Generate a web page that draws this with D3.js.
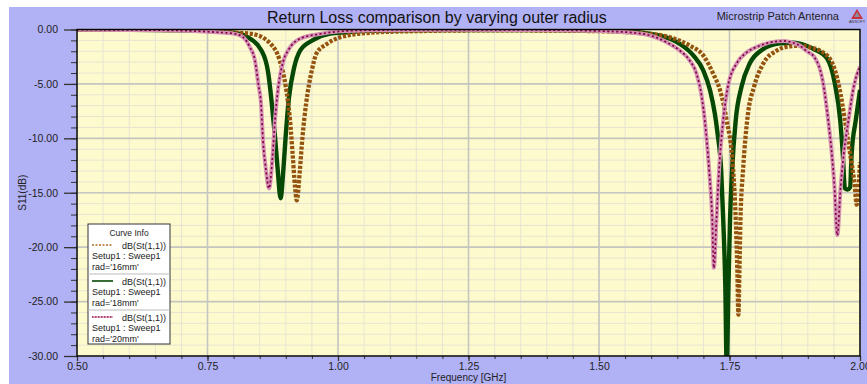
<!DOCTYPE html>
<html>
<head>
<meta charset="utf-8">
<script src="https://cdn.jsdelivr.net/npm/d3@7"></script>
<style>
  body { margin: 0; background: #ffffff; }
  svg { display: block; font-family: "Liberation Sans", Arial, sans-serif; }
</style>
</head>
<body>
<svg id="chart" width="867" height="384"></svg>
<script>
// values (GHz, dB)
var freq16 = [0.50, 0.60, 0.70, 0.76, 0.80, 0.835, 0.87, 0.888, 0.900, 0.908, 0.913, 0.9176, 0.921, 0.927, 0.932, 0.939, 0.950, 0.959, 0.978, 1.002, 1.061, 1.15, 1.30, 1.45, 1.53, 1.585, 1.636, 1.674, 1.700, 1.719, 1.732, 1.744, 1.757, 1.762, 1.765, 1.767, 1.769, 1.771, 1.776, 1.785, 1.797, 1.815, 1.840, 1.866, 1.885, 1.905, 1.923, 1.945, 1.960, 1.971, 1.981, 1.990, 1.9936, 2.00];
var s16 = [-0.02, -0.03, -0.06, -0.15, -0.28, -0.40, -1.27, -2.8, -5.26, -8.3, -11.4, -14.4, -15.7, -12.9, -9.85, -6.78, -3.72, -2.19, -1.35, -0.75, -0.30, -0.15, -0.08, -0.12, -0.20, -0.35, -0.72, -1.49, -2.4, -4.09, -5.6, -8.2, -12.9, -17.5, -22.1, -26.2, -22.1, -17.5, -12.9, -7.9, -5.26, -3.1, -1.95, -1.55, -1.49, -1.65, -1.94, -2.9, -5.26, -8.3, -11.4, -14.4, -16.1, -12.2];

var freq18 = [0.50, 0.60, 0.70, 0.76, 0.80, 0.825, 0.853, 0.866, 0.873, 0.8793, 0.8845, 0.890, 0.8953, 0.8997, 0.906, 0.916, 0.928, 0.9527, 0.985, 1.017, 1.061, 1.20, 1.40, 1.553, 1.617, 1.655, 1.681, 1.700, 1.713, 1.722, 1.727, 1.734, 1.738, 1.742, 1.7446, 1.748, 1.751, 1.755, 1.762, 1.773, 1.789, 1.812, 1.847, 1.872, 1.895, 1.911, 1.936, 1.952, 1.962, 1.967, 1.971, 1.976, 1.981, 1.984, 1.992, 2.00];
var s18 = [-0.02, -0.03, -0.07, -0.15, -0.30, -0.66, -1.9, -3.9, -6.7, -9.85, -12.9, -15.5, -12.9, -9.85, -6.3, -3.5, -1.9, -0.96, -0.38, -0.26, -0.12, -0.05, -0.06, -0.17, -0.57, -1.33, -2.4, -3.78, -5.62, -7.76, -9.5, -12.9, -17.5, -23.6, -31.0, -23.6, -17.5, -12.9, -8.3, -5.26, -3.1, -1.88, -1.27, -1.22, -1.45, -1.79, -2.6, -5.0, -8.3, -11.4, -14.6, -14.7, -14.5, -11.4, -8.3, -5.56];

var freq20 = [0.50, 0.60, 0.70, 0.75, 0.7676, 0.80, 0.818, 0.8314, 0.841, 0.8473, 0.8525, 0.8565, 0.862, 0.8678, 0.875, 0.8793, 0.8857, 0.8953, 0.906, 0.927, 0.9655, 1.004, 1.061, 1.20, 1.40, 1.521, 1.585, 1.630, 1.655, 1.674, 1.687, 1.697, 1.703, 1.711, 1.717, 1.720, 1.725, 1.730, 1.738, 1.748, 1.764, 1.783, 1.808, 1.840, 1.855, 1.870, 1.885, 1.898, 1.912, 1.930, 1.939, 1.946, 1.951, 1.9565, 1.963, 1.969, 1.978, 1.988, 2.00];
var s20 = [-0.02, -0.04, -0.10, -0.20, -0.25, -0.38, -0.70, -1.64, -2.86, -5.0, -6.8, -10.3, -12.9, -14.6, -11.4, -8.3, -5.26, -2.9, -1.8, -0.85, -0.41, -0.17, -0.06, -0.03, -0.05, -0.17, -0.41, -1.18, -1.94, -2.86, -4.09, -6.23, -8.5, -12.9, -17.5, -21.9, -17.5, -12.9, -8.3, -5.0, -3.1, -2.1, -1.49, -1.09, -1.05, -1.2, -1.49, -2.0, -2.5, -5.1, -8.3, -11.4, -14.4, -18.9, -14.4, -11.4, -8.3, -5.26, -3.4];

var radLabels = ["rad='16mm'", "rad='18mm'", "rad='20mm'"];
var xTicks = [0.50, 0.75, 1.00, 1.25, 1.50, 1.75, 2.00];
var yTicks = [0, -5, -10, -15, -20, -25, -30];

var svg = d3.select("#chart");
var plot = {left: 77, right: 860, top: 29.5, bottom: 356};

// page background
svg.append("rect")
  .attr("x", 9).attr("y", 7)
  .attr("width", 858).attr("height", 377)
  .attr("fill", "#b1b1f6");

var x = d3.scaleLinear().domain([0.5, 2.0]).range([plot.left, plot.right]);
var y = d3.scaleLinear().domain([-30, 0]).range([plot.bottom, plot.top]);

svg.append("rect")
  .attr("x", plot.left).attr("y", plot.top)
  .attr("width", plot.right - plot.left).attr("height", plot.bottom - plot.top)
  .attr("fill", "#fdfbcd");

// minor grid
var grid = svg.append("g");
grid.selectAll(".vminor").data(x.ticks(30)).enter().append("line")
  .attr("x1", function(d) { return x(d); }).attr("x2", function(d) { return x(d); })
  .attr("y1", plot.top).attr("y2", plot.bottom)
  .attr("stroke", "#e6e4d2").attr("stroke-width", 1);
grid.selectAll(".hminor").data(y.ticks(30)).enter().append("line")
  .attr("y1", function(d) { return y(d); }).attr("y2", function(d) { return y(d); })
  .attr("x1", plot.left).attr("x2", plot.right)
  .attr("stroke", "#e6e4d2").attr("stroke-width", 1);
// major grid
grid.selectAll(".vmajor").data(xTicks).enter().append("line")
  .attr("x1", function(d) { return x(d); }).attr("x2", function(d) { return x(d); })
  .attr("y1", plot.top).attr("y2", plot.bottom)
  .attr("stroke", "#c6c6c0").attr("stroke-width", 1.6);
grid.selectAll(".hmajor").data(yTicks).enter().append("line")
  .attr("y1", function(d) { return y(d); }).attr("y2", function(d) { return y(d); })
  .attr("x1", plot.left).attr("x2", plot.right)
  .attr("stroke", "#c6c6c0").attr("stroke-width", 1.6);

svg.append("clipPath").attr("id", "clip")
  .append("rect")
  .attr("x", plot.left).attr("y", plot.top)
  .attr("width", plot.right - plot.left).attr("height", plot.bottom - plot.top);

function pts(fs, vs) {
  return fs.map(function(f, i) { return [f, vs[i]]; });
}

var line = d3.line()
  .x(function(d) { return x(d[0]); })
  .y(function(d) { return y(d[1]); })
  .curve(d3.curveMonotoneX);

var curves = svg.append("g").attr("clip-path", "url(#clip)");

curves.append("path")
  .attr("d", line(pts(freq18, s18)))
  .attr("fill", "none").attr("stroke", "#064806").attr("stroke-width", 4.4);

curves.append("path")
  .attr("d", line(pts(freq16, s16)))
  .attr("fill", "none").attr("stroke", "#94530f").attr("stroke-width", 4.3)
  .attr("stroke-dasharray", "3.2,1.6");

curves.append("path")
  .attr("d", line(pts(freq20, s20)))
  .attr("fill", "none").attr("stroke", "#d491b4").attr("stroke-width", 4);
curves.append("path")
  .attr("d", line(pts(freq20, s20)))
  .attr("fill", "none").attr("stroke", "#800040").attr("stroke-width", 1.7)
  .attr("stroke-dasharray", "2,2.5");

// axes
var fmt = function(d) { return d.toFixed(2); };

var yMinor = svg.append("g")
  .attr("transform", "translate(" + plot.left + ",0)")
  .call(d3.axisLeft(y).ticks(30).tickSize(6).tickFormat(""));
yMinor.select(".domain").remove();
yMinor.selectAll("line").attr("stroke", "#333");

var yAxis = svg.append("g")
  .attr("transform", "translate(" + plot.left + ",0)")
  .call(d3.axisLeft(y).tickValues(yTicks).tickSize(13).tickPadding(6).tickFormat(fmt));
yAxis.select(".domain").remove();
yAxis.selectAll("line").attr("stroke", "#333").attr("stroke-width", 1.3);
yAxis.selectAll("text").attr("font-size", "10.5px").attr("fill", "#222")
  .attr("font-family", "Liberation Sans, Arial, sans-serif");

var xMinor = svg.append("g")
  .attr("transform", "translate(0," + plot.bottom + ")")
  .call(d3.axisBottom(x).ticks(30).tickSize(3).tickFormat(""));
xMinor.select(".domain").remove();
xMinor.selectAll("line").attr("stroke", "#333");

var xAxis = svg.append("g")
  .attr("transform", "translate(0," + plot.bottom + ")")
  .call(d3.axisBottom(x).tickValues(xTicks).tickSize(5).tickPadding(2).tickFormat(fmt));
xAxis.select(".domain").remove();
xAxis.selectAll("line").attr("stroke", "#333").attr("stroke-width", 1.3);
xAxis.selectAll("text").attr("font-size", "10.5px").attr("fill", "#222")
  .attr("font-family", "Liberation Sans, Arial, sans-serif");

// plot frame
svg.append("rect")
  .attr("x", plot.left).attr("y", plot.top)
  .attr("width", plot.right - plot.left).attr("height", plot.bottom - plot.top)
  .attr("fill", "none").attr("stroke", "#000").attr("stroke-width", 1.4);

// titles
svg.append("text")
  .attr("x", 267).attr("y", 23)
  .attr("font-size", "16px").attr("fill", "#111")
  .text("Return Loss comparison by varying outer radius");

svg.append("text")
  .attr("x", 839).attr("y", 20).attr("text-anchor", "end")
  .attr("font-size", "11px").attr("fill", "#222")
  .text("Microstrip Patch Antenna");

// small ansoft mark
var logo = svg.append("g").attr("transform", "translate(857,9)");
logo.append("path").attr("d", "M0,0 L6,10 L-6,10 Z").attr("fill", "#c8323c");
logo.append("path").attr("d", "M0,3 L3,8 L-3,8 Z").attr("fill", "#8c8c9c");
logo.append("text").attr("x", 0).attr("y", 14).attr("text-anchor", "middle")
  .attr("font-size", "4px").attr("fill", "#333").text("ANSOFT");

svg.append("text")
  .attr("x", plot.left + (plot.right - plot.left) / 2).attr("y", 381)
  .attr("text-anchor", "middle").attr("font-size", "10px").attr("fill", "#222")
  .text("Frequency [GHz]");

svg.append("text")
  .attr("transform", "translate(26," + ((plot.top + plot.bottom) / 2) + ") rotate(-90)")
  .attr("text-anchor", "middle").attr("font-size", "10px").attr("fill", "#222")
  .text("S11(dB)");

// legend
var lg = svg.append("g").attr("transform", "translate(88,224)");
lg.append("rect")
  .attr("width", 82).attr("height", 120)
  .attr("fill", "#ffffff").attr("stroke", "#333").attr("stroke-width", 1);
lg.append("text").attr("x", 41).attr("y", 11.5).attr("text-anchor", "middle")
  .attr("font-size", "8.5px").attr("fill", "#222").text("Curve Info");

var legendStyles = [
  {stroke: "#b06a20", dash: "2,1.5", under: null},
  {stroke: "#064806", dash: null, under: null},
  {stroke: "#a0285a", dash: "1.5,1.5", under: "#e2b0c8"}
];

var entry = lg.selectAll(".entry").data(radLabels).enter().append("g")
  .attr("transform", function(d, i) { return "translate(0," + (14 + i * 36) + ")"; });

entry.filter(function(d, i) { return i > 0; }).append("line")
  .attr("x1", 0).attr("x2", 82).attr("y1", 0).attr("y2", 0)
  .attr("stroke", "#bbb").attr("stroke-width", 1);

entry.each(function(d, i) {
  var g = d3.select(this);
  var st = legendStyles[i];
  if (st.under) {
    g.append("line").attr("x1", 4).attr("x2", 25).attr("y1", 7).attr("y2", 7)
      .attr("stroke", st.under).attr("stroke-width", 2);
  }
  g.append("line").attr("x1", 4).attr("x2", 25).attr("y1", 7).attr("y2", 7)
    .attr("stroke", st.stroke).attr("stroke-width", i == 1 ? 1.6 : 1.4)
    .attr("stroke-dasharray", st.dash);
});

entry.append("text").attr("x", 78).attr("y", 10.5).attr("text-anchor", "end")
  .attr("font-size", "9px").attr("fill", "#222").text("dB(St(1,1))");
entry.append("text").attr("x", 4).attr("y", 21).attr("font-size", "9px").attr("fill", "#222")
  .text("Setup1 : Sweep1");
entry.append("text").attr("x", 4).attr("y", 31.5).attr("font-size", "9px").attr("fill", "#222")
  .text(function(d) { return d; });
</script>
</body>
</html>
